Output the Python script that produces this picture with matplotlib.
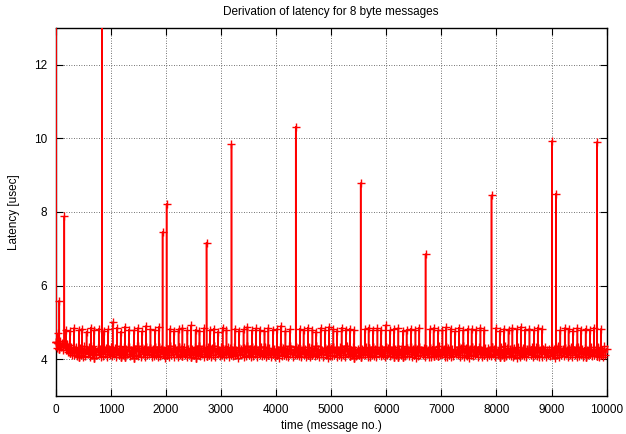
import numpy as np
import matplotlib
matplotlib.use("Agg")
import matplotlib.pyplot as plt
from matplotlib.transforms import Bbox, TransformedBbox

# baseline latency, one reading every 20 messages (0 .. 10000)
base_step = 20
base_y = [
    4.48, 4.30, 4.45, 4.28, 4.50, 4.32, 4.44, 4.26, 4.42, 4.24,
    4.40, 4.20, 4.38, 4.18, 4.34, 4.12, 4.30, 4.10, 4.33, 4.08,
    4.29, 4.06, 4.31, 4.11, 4.27, 4.05, 4.35, 4.09, 4.26, 4.13,
    4.32, 4.07, 4.28, 4.12, 4.36, 4.04, 4.25, 4.10, 4.30, 4.14,
    4.27, 4.06, 4.33, 4.09, 4.24, 4.15, 4.31, 4.05, 4.29, 4.11,
    4.34, 4.08, 4.26, 4.13, 4.30, 4.06, 4.28, 4.12, 4.35, 4.07,
    4.25, 4.10, 4.32, 4.05, 4.27, 4.14, 4.33, 4.08, 4.24, 4.11,
    4.30, 4.04, 4.29, 4.12, 4.36, 4.09, 4.26, 4.06, 4.31, 4.13,
    4.28, 4.07, 4.34, 4.10, 4.25, 4.15, 4.30, 4.05, 4.27, 4.09,
    4.33, 4.11, 4.24, 4.06, 4.32, 4.08, 4.29, 4.14, 4.26, 4.04,
    4.31, 4.12, 4.27, 4.07, 4.35, 4.10, 4.25, 4.06, 4.30, 4.13,
    4.26, 4.05, 4.33, 4.11, 4.28, 4.08, 4.34, 4.12, 4.24, 4.07,
    4.29, 4.14, 4.30, 4.06, 4.27, 4.10, 4.32, 4.04, 4.28, 4.11,
    4.35, 4.08, 4.25, 4.13, 4.31, 4.05, 4.26, 4.09, 4.33, 4.12,
    4.24, 4.06, 4.30, 4.10, 4.36, 4.07, 4.29, 4.14, 4.25, 4.08,
    4.32, 4.11, 4.27, 4.05, 4.28, 4.13, 4.34, 4.06, 4.30, 4.10,
    4.26, 4.09, 4.33, 4.12, 4.24, 4.04, 4.31, 4.11, 4.27, 4.15,
    4.30, 4.07, 4.25, 4.08, 4.35, 4.10, 4.28, 4.05, 4.32, 4.09,
    4.27, 4.13, 4.29, 4.06, 4.26, 4.12, 4.33, 4.08, 4.24, 4.11,
    4.34, 4.05, 4.31, 4.10, 4.30, 4.07, 4.25, 4.13, 4.29, 4.06,
    4.28, 4.12, 4.26, 4.04, 4.33, 4.09, 4.30, 4.11, 4.27, 4.08,
    4.25, 4.07, 4.35, 4.13, 4.29, 4.06, 4.24, 4.10, 4.34, 4.12,
    4.31, 4.09, 4.27, 4.05, 4.32, 4.14, 4.28, 4.07, 4.26, 4.10,
    4.33, 4.06, 4.30, 4.11, 4.25, 4.08, 4.36, 4.12, 4.29, 4.05,
    4.26, 4.13, 4.24, 4.07, 4.31, 4.10, 4.27, 4.04, 4.32, 4.09,
    4.30, 4.08, 4.34, 4.12, 4.28, 4.06, 4.25, 4.11, 4.33, 4.07,
    4.27, 4.10, 4.29, 4.05, 4.35, 4.13, 4.30, 4.08, 4.24, 4.12,
    4.32, 4.04, 4.26, 4.09, 4.27, 4.11, 4.31, 4.06, 4.28, 4.14,
    4.25, 4.12, 4.33, 4.07, 4.30, 4.05, 4.26, 4.10, 4.34, 4.08,
    4.29, 4.06, 4.24, 4.13, 4.32, 4.09, 4.27, 4.12, 4.25, 4.05,
    4.34, 4.11, 4.30, 4.08, 4.26, 4.14, 4.33, 4.06, 4.29, 4.10,
    4.28, 4.05, 4.27, 4.12, 4.35, 4.07, 4.24, 4.09, 4.31, 4.13,
    4.26, 4.09, 4.32, 4.06, 4.28, 4.11, 4.30, 4.04, 4.27, 4.08,
    4.33, 4.12, 4.25, 4.10, 4.31, 4.05, 4.29, 4.13, 4.24, 4.07,
    4.30, 4.06, 4.34, 4.09, 4.26, 4.12, 4.27, 4.08, 4.35, 4.11,
    4.24, 4.14, 4.28, 4.05, 4.33, 4.07, 4.31, 4.10, 4.26, 4.06,
    4.29, 4.08, 4.26, 4.13, 4.25, 4.10, 4.32, 4.05, 4.30, 4.12,
    4.35, 4.07, 4.31, 4.09, 4.28, 4.04, 4.27, 4.11, 4.33, 4.08,
    4.27, 4.11, 4.24, 4.06, 4.34, 4.13, 4.25, 4.07, 4.29, 4.10,
    4.31, 4.05, 4.30, 4.12, 4.26, 4.08, 4.33, 4.14, 4.28, 4.06,
    4.25, 4.10, 4.29, 4.07, 4.32, 4.11, 4.24, 4.05, 4.36, 4.09,
    4.30, 4.13, 4.27, 4.08, 4.28, 4.06, 4.31, 4.12, 4.26, 4.04,
    4.33, 4.07, 4.25, 4.11, 4.30, 4.09, 4.29, 4.06, 4.27, 4.13,
    4.28, 4.12, 4.34, 4.05, 4.24, 4.10, 4.32, 4.08, 4.31, 4.07,
    4.26, 4.06, 4.29, 4.14, 4.33, 4.07, 4.25, 4.11, 4.28, 4.09,
    4.32, 4.10, 4.27, 4.04, 4.30, 4.12, 4.35, 4.06, 4.24, 4.11,
    4.29, 4.08, 4.31, 4.13, 4.26, 4.05, 4.28, 4.10, 4.33, 4.07,
    4.25, 4.12, 4.30, 4.06, 4.34, 4.09, 4.27, 4.13, 4.29, 4.05,
    4.31, 4.07, 4.26, 4.11, 4.28, 4.14, 4.32, 4.08, 4.25, 4.10,
    4.27, 4.09, 4.33, 4.06, 4.30, 4.12, 4.24, 4.07, 4.35, 4.11,
    4.28,
]

# small spikes (~4.8 usec)
mid_x = [
    45, 190, 260, 330, 420, 480, 560, 640, 700, 790,
    880, 950, 1110, 1180, 1260, 1330, 1420, 1490, 1570, 1640,
    1720, 1800, 1870, 2080, 2150, 2230, 2300, 2390, 2460, 2540,
    2610, 2690, 2800, 2870, 2950, 3030, 3100, 3260, 3330, 3410,
    3480, 3560, 3640, 3710, 3790, 3860, 3940, 4020, 4090, 4170,
    4250, 4430, 4500, 4580, 4660, 4730, 4810, 4890, 4960, 5040,
    5110, 5190, 5270, 5340, 5420, 5610, 5680, 5760, 5840, 5910,
    5990, 6070, 6140, 6220, 6300, 6370, 6450, 6530, 6600, 6790,
    6860, 6940, 7020, 7090, 7170, 7250, 7320, 7400, 7480, 7550,
    7630, 7710, 7780, 7990, 8060, 8140, 8220, 8290, 8370, 8450,
    8520, 8600, 8680, 8750, 8830, 9160, 9240, 9310, 9390, 9470,
    9540, 9620, 9700, 9770, 9900,
]
mid_y = [
    4.70, 4.80, 4.76, 4.84, 4.78, 4.82, 4.74, 4.86, 4.79, 4.83,
    4.77, 4.81, 4.85, 4.75, 4.88, 4.80, 4.78, 4.84, 4.76, 4.90,
    4.82, 4.79, 4.87, 4.83, 4.77, 4.81, 4.85, 4.78, 4.92, 4.80,
    4.76, 4.84, 4.79, 4.82, 4.75, 4.86, 4.80, 4.83, 4.77, 4.81,
    4.88, 4.78, 4.84, 4.80, 4.76, 4.85, 4.79, 4.82, 4.90, 4.77,
    4.81, 4.83, 4.78, 4.86, 4.80, 4.75, 4.84, 4.79, 4.87, 4.82,
    4.77, 4.85, 4.80, 4.83, 4.78, 4.81, 4.86, 4.79, 4.84, 4.80,
    4.92, 4.78, 4.82, 4.85, 4.77, 4.80, 4.83, 4.79, 4.86, 4.81,
    4.84, 4.78, 4.80, 4.87, 4.82, 4.76, 4.85, 4.79, 4.83, 4.81,
    4.78, 4.86, 4.80, 4.84, 4.77, 4.82, 4.79, 4.85, 4.81, 4.88,
    4.80, 4.83, 4.78, 4.86, 4.82, 4.79, 4.84, 4.81, 4.77, 4.85,
    4.80, 4.83, 4.79, 4.86, 4.82,
]

# large spikes
big_x = [0, 65, 156, 840, 1034, 1940, 2013, 2738, 3191, 4357,
         5536, 6714, 7911, 9012, 9084, 9828]
big_y = [25.0, 5.59, 7.88, 20.0, 5.0, 7.45, 8.21, 7.17, 9.84, 10.31,
         8.78, 6.85, 8.45, 9.93, 8.50, 9.90]

# build the series: baseline points plus a vertical excursion per spike
bx = np.arange(len(base_y)) * base_step
by = np.array(base_y)
xs = list(bx)
ys = list(by)
for px, py in zip(mid_x + big_x, mid_y + big_y):
    b = by[int(round(px / base_step))]
    xs += [px, px, px]
    ys += [b, py, b]
xs = np.array(xs, dtype=float)
ys = np.array(ys)
order = np.argsort(xs, kind="stable")
xs, ys = xs[order], ys[order]

plt.rcParams["font.family"] = ["Liberation Sans", "DejaVu Sans"]
plt.rcParams["font.size"] = 8.5

fig = plt.figure(figsize=(6.26, 4.34), dpi=100)
ax = fig.add_axes([0.089, 0.0876, 0.880, 0.848])

ax.plot(xs, ys, color="red", lw=1.1, zorder=3)
pts, = ax.plot(xs, ys, ls="none", marker="+", color="red", ms=6, mew=1.0,
               zorder=3)
pts.set_clip_box(TransformedBbox(Bbox([[-0.012, 0], [1.012, 1]]), ax.transAxes))

ax.set_xlim(0, 10000)
ax.set_ylim(3, 13)
ax.set_xticks(range(0, 10001, 1000))
ax.set_yticks([4, 6, 8, 10, 12])
ax.tick_params(direction="in", top=True, right=True, length=5, width=0.8,
               pad=6, labelsize=8.5)
ax.grid(True, color="#444444", ls=(0, (1, 2)), lw=0.6)
for s in ax.spines.values():
    s.set_linewidth(1.0)

ax.set_title("Derivation of latency for 8 byte messages", fontsize=8.5, pad=9)
ax.set_xlabel("time (message no.)", fontsize=8.5, labelpad=3)
ax.set_ylabel("Latency [usec]", fontsize=8.5, labelpad=10)

fig.savefig("out.png", dpi=100)
